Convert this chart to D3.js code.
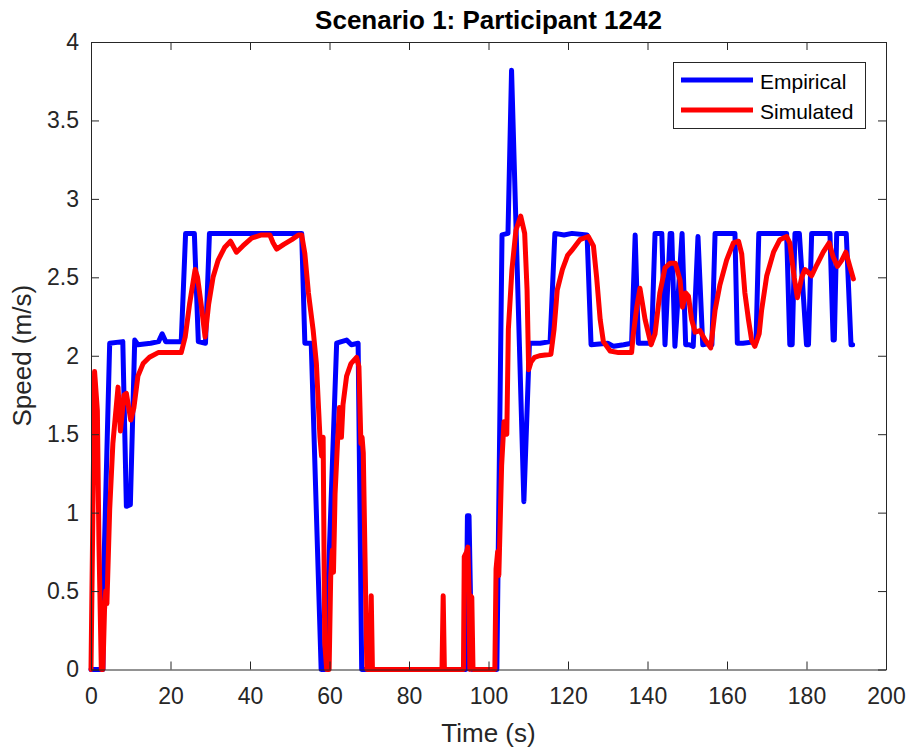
<!DOCTYPE html>
<html>
<head>
<meta charset="utf-8">
<script src="https://cdn.jsdelivr.net/npm/d3@7"></script>
<style>
  body { margin: 0; background: #fff; }
  svg { display: block; font-family: "Liberation Sans", Arial, Helvetica, sans-serif; }
</style>
</head>
<body>
<svg id="chart" width="910" height="750"></svg>
<script>
// Recorded walking speed (m/s) against time (s)
const empiricalTime = [0, 3.0, 3.2, 4.7, 8.0, 8.9, 9.9, 11.0, 11.8, 15.0, 17.0, 17.9, 18.8, 22.7, 23.8, 26.0, 27.0, 28.8, 29.8, 53.0, 53.8, 55.4, 57.9, 58.9, 61.8, 63.0, 64.3, 65.5, 67.2, 68.1, 94.3, 94.7, 95.1, 95.8, 102.1, 103.4, 104.9, 105.8, 108.9, 110.3, 113.0, 115.5, 116.7, 119.0, 121.0, 124.8, 125.8, 130.0, 131.5, 134.0, 136.0, 136.9, 137.7, 141.0, 141.9, 143.6, 144.4, 145.7, 146.1, 146.9, 148.7, 149.6, 150.5, 151.5, 152.7, 153.9, 155.5, 156.2, 157.0, 162.0, 162.6, 164.0, 167.3, 168.0, 175.0, 175.8, 176.4, 177.1, 178.2, 180.0, 180.5, 181.3, 185.9, 186.7, 187.0, 187.6, 190.0, 191.2, 191.6];
const empiricalSpeed = [0, 0, 0.61, 2.08, 2.09, 1.04, 1.05, 2.1, 2.07, 2.08, 2.09, 2.14, 2.09, 2.09, 2.78, 2.78, 2.09, 2.08, 2.78, 2.78, 2.08, 2.08, 0, 0, 2.08, 2.09, 2.1, 2.07, 2.08, 0, 0, 0.98, 0.98, 0, 0, 2.77, 2.78, 3.82, 1.07, 2.08, 2.08, 2.09, 2.78, 2.77, 2.78, 2.77, 2.07, 2.08, 2.06, 2.07, 2.08, 2.77, 2.08, 2.08, 2.78, 2.78, 2.07, 2.78, 2.78, 2.06, 2.78, 2.07, 2.07, 2.06, 2.76, 2.07, 2.08, 2.07, 2.78, 2.78, 2.08, 2.08, 2.09, 2.78, 2.78, 2.07, 2.07, 2.78, 2.78, 2.07, 2.07, 2.78, 2.78, 2.1, 2.1, 2.78, 2.78, 2.07, 2.07];

// Model output for the same run
const simulatedTime = [0, 0.9, 1.6, 2.0, 2.6, 3.0, 3.4, 3.7, 4.0, 4.7, 5.5, 6.8, 7.4, 8.3, 8.9, 10.0, 10.8, 11.8, 13.1, 14.7, 16.9, 22.7, 23.7, 24.8, 26.2, 26.8, 27.7, 28.7, 29.6, 30.7, 32.0, 33.6, 35.1, 36.6, 38.2, 40.4, 42.9, 45.0, 45.8, 46.7, 48.5, 50.5, 52.2, 53.0, 53.8, 54.7, 55.9, 56.7, 57.6, 58.0, 58.4, 58.8, 59.3, 59.9, 60.3, 60.7, 61.0, 61.4, 62.0, 62.5, 63.0, 63.4, 64.3, 65.4, 66.8, 67.4, 67.9, 68.2, 68.5, 69.4, 70.2, 70.5, 70.8, 88.3, 88.6, 88.9, 93.7, 93.9, 94.5, 94.8, 95.1, 95.3, 95.5, 95.8, 96.1, 101.6, 101.9, 102.3, 102.6, 103.3, 103.9, 104.6, 105.0, 105.9, 106.9, 108.1, 109.1, 109.7, 110.1, 110.7, 111.6, 112.8, 115.7, 116.5, 117.3, 118.6, 119.9, 120.9, 123.0, 125.1, 126.4, 127.2, 128.1, 128.9, 130.6, 132.7, 136.0, 136.4, 137.3, 138.1, 139.4, 140.9, 141.9, 143.1, 144.4, 145.7, 147.0, 148.2, 148.8, 149.6, 150.3, 151.1, 152.0, 153.2, 154.5, 155.9, 157.0, 158.2, 159.9, 161.6, 162.9, 163.7, 164.5, 165.4, 166.2, 167.0, 168.1, 168.7, 170.0, 171.7, 173.3, 175.0, 175.8, 176.9, 177.7, 178.8, 179.6, 180.5, 181.3, 182.6, 184.2, 185.7, 186.7, 187.8, 188.9, 189.9, 190.9, 191.8];
const simulatedSpeed = [0, 1.9, 1.65, 0.8, 0, 0, 0.38, 0.5, 0.42, 1.02, 1.44, 1.8, 1.52, 1.75, 1.76, 1.59, 1.67, 1.87, 1.95, 1.99, 2.02, 2.02, 2.12, 2.33, 2.55, 2.5, 2.33, 2.12, 2.33, 2.5, 2.61, 2.69, 2.73, 2.66, 2.7, 2.75, 2.77, 2.77, 2.72, 2.68, 2.71, 2.74, 2.77, 2.77, 2.65, 2.4, 2.16, 1.95, 1.48, 1.36, 1.48, 0.17, 0, 0, 0.59, 0.76, 0.62, 1.12, 1.44, 1.67, 1.48, 1.69, 1.87, 1.95, 1.99, 1.93, 1.44, 1.48, 1.38, 0, 0, 0.47, 0, 0, 0.47, 0, 0, 0.72, 0.75, 0.78, 0.5, 0, 0.47, 0.46, 0, 0, 0.64, 0.75, 0.6, 1.3, 1.58, 1.5, 2.17, 2.55, 2.8, 2.89, 2.78, 2.42, 1.91, 1.96, 1.99, 2.0, 2.01, 2.17, 2.42, 2.55, 2.64, 2.67, 2.74, 2.76, 2.7, 2.5, 2.23, 2.09, 2.03, 2.02, 2.02, 2.13, 2.31, 2.43, 2.23, 2.07, 2.14, 2.4, 2.56, 2.59, 2.59, 2.48, 2.31, 2.4, 2.38, 2.23, 2.15, 2.16, 2.1, 2.05, 2.29, 2.45, 2.61, 2.72, 2.73, 2.65, 2.4, 2.23, 2.1, 2.06, 2.14, 2.29, 2.51, 2.66, 2.74, 2.76, 2.72, 2.5, 2.37, 2.5, 2.55, 2.53, 2.51, 2.58, 2.66, 2.72, 2.63, 2.57, 2.61, 2.66, 2.57, 2.49];

const xTicks = [0, 20, 40, 60, 80, 100, 120, 140, 160, 180, 200];
const yTicks = [0, 0.5, 1, 1.5, 2, 2.5, 3, 3.5, 4];
const seriesNames = ["Empirical", "Simulated"];
const seriesColors = ["#0000ff", "#ff0000"];

const box = { left: 91, right: 886, top: 42, bottom: 669.5 };
const axisColor = "#262626";
const tickLen = 8;

const svg = d3.select("#chart");
const x = d3.scaleLinear().domain([0, 200]).range([box.left, box.right]);
const y = d3.scaleLinear().domain([0, 4]).range([box.bottom, box.top]);

const series = [
  { name: seriesNames[0], color: seriesColors[0], pts: empiricalTime.map((t, i) => [t, empiricalSpeed[i]]) },
  { name: seriesNames[1], color: seriesColors[1], pts: simulatedTime.map((t, i) => [t, simulatedSpeed[i]]) }
];

const line = d3.line().x(d => x(d[0])).y(d => y(d[1]));

// data lines
const plot = svg.append("g");
series.forEach(s => {
  plot.append("path")
    .datum(s.pts)
    .attr("d", line)
    .attr("fill", "none")
    .attr("stroke", s.color)
    .attr("stroke-width", 5)
    .attr("stroke-linejoin", "round")
    .attr("stroke-linecap", "round");
});

// axes: boxed frame with inward ticks on all four sides
function styleAxis(g) {
  g.selectAll("path").attr("stroke", axisColor).attr("stroke-width", 1);
  g.selectAll("line").attr("stroke", axisColor).attr("stroke-width", 1);
  g.selectAll("text").attr("fill", axisColor).attr("font-size", 23).attr("font-family", '"Liberation Sans", Arial, sans-serif');
}

const xAxis = svg.append("g")
  .attr("transform", `translate(0,${box.bottom})`)
  .call(d3.axisBottom(x).tickValues(xTicks).tickSizeInner(-tickLen).tickSizeOuter(0).tickPadding(18).tickFormat(d3.format("d")));
styleAxis(xAxis);

const xAxisTop = svg.append("g")
  .attr("transform", `translate(0,${box.top})`)
  .call(d3.axisTop(x).tickValues(xTicks).tickSizeInner(-tickLen).tickSizeOuter(0).tickFormat(""));
styleAxis(xAxisTop);

const yAxis = svg.append("g")
  .attr("transform", `translate(${box.left},0)`)
  .call(d3.axisLeft(y).tickValues(yTicks).tickSizeInner(-tickLen).tickSizeOuter(0).tickPadding(12).tickFormat(d => d3.format("")(d)));
styleAxis(yAxis);

const yAxisRight = svg.append("g")
  .attr("transform", `translate(${box.right},0)`)
  .call(d3.axisRight(y).tickValues(yTicks).tickSizeInner(-tickLen).tickSizeOuter(0).tickFormat(""));
styleAxis(yAxisRight);

// title and axis labels
svg.append("text")
  .attr("x", (box.left + box.right) / 2)
  .attr("y", 29)
  .attr("text-anchor", "middle")
  .attr("font-size", 26)
  .attr("font-weight", "bold")
  .attr("fill", "#000")
  .text("Scenario 1: Participant 1242");

svg.append("text")
  .attr("x", (box.left + box.right) / 2)
  .attr("y", 742)
  .attr("text-anchor", "middle")
  .attr("font-size", 26)
  .attr("fill", axisColor)
  .text("Time (s)");

svg.append("text")
  .attr("transform", `translate(31,${(box.top + box.bottom) / 2}) rotate(-90)`)
  .attr("text-anchor", "middle")
  .attr("font-size", 26)
  .attr("fill", axisColor)
  .text("Speed (m/s)");

// legend
const legend = svg.append("g").attr("transform", "translate(673,62)");
legend.append("rect")
  .attr("x", 0.5).attr("y", 0.5)
  .attr("width", 192).attr("height", 66)
  .attr("fill", "#fff")
  .attr("stroke", axisColor)
  .attr("stroke-width", 1);
series.forEach((s, i) => {
  const ly = 18 + i * 30;
  legend.append("line")
    .attr("x1", 8).attr("x2", 80)
    .attr("y1", ly).attr("y2", ly)
    .attr("stroke", s.color)
    .attr("stroke-width", 5);
  legend.append("text")
    .attr("x", 87).attr("y", ly + 9)
    .attr("font-size", 21)
    .attr("fill", "#000")
    .text(s.name);
});
</script>
</body>
</html>
